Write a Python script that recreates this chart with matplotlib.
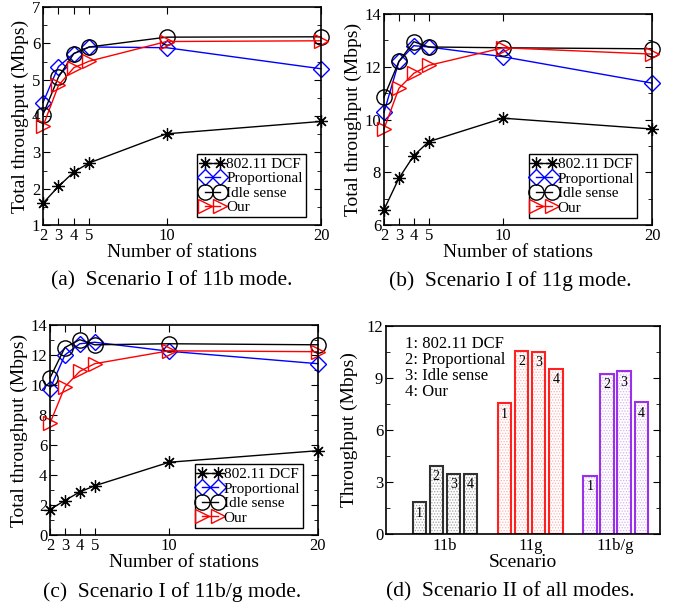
import numpy as np
import matplotlib
matplotlib.use("Agg")
import matplotlib.pyplot as plt

plt.rcParams['font.family'] = ['Liberation Serif', 'DejaVu Serif']

# ---- data ----
stations = [2, 3, 4, 5, 10, 20]

b_dcf = [1.60, 2.06, 2.46, 2.71, 3.51, 3.85]
b_prop = [4.37, 5.36, 5.72, 5.90, 5.88, 5.30]
b_idle = [4.04, 5.07, 5.72, 5.90, 6.17, 6.18]
b_our = [3.72, 4.84, 5.33, 5.51, 6.05, 6.07]

g_dcf = [6.58, 7.77, 8.63, 9.16, 10.05, 9.64]
g_prop = [10.27, 12.20, 12.80, 12.75, 12.38, 11.38]
g_idle = [10.85, 12.20, 12.95, 12.75, 12.72, 12.68]
g_our = [9.64, 11.18, 11.75, 12.05, 12.72, 12.48]

bg_dcf = [1.70, 2.30, 2.87, 3.28, 4.85, 5.62]
bg_prop = [9.74, 12.00, 12.75, 12.85, 12.25, 11.42]
bg_idle = [10.47, 12.50, 13.02, 12.68, 12.75, 12.68]
bg_our = [7.45, 9.88, 10.91, 11.42, 12.28, 12.22]

scenarios = ["11b", "11g", "11b/g"]
scheme_labels = ["1: 802.11 DCF", "2: Proportional", "3: Idle sense", "4: Our"]
bar_vals = [
    [1.82, 3.95, 3.48, 3.48],   # 11b
    [7.53, 10.57, 10.50, 9.52],  # 11g
    [3.37, 9.23, 9.39, 7.60],   # 11b/g
]

series_names = ["802.11 DCF", "Proportional", "Idle sense", "Our"]
styles = [
    dict(color="black", marker=(8, 2, 0), markersize=9, mew=0.9),
    dict(color="#0000ff", marker="D", markersize=8, mfc="none", mew=1.0),
    dict(color="black", marker="o", markersize=11, mfc="none", mew=1.0),
    dict(color="#ff0000", marker=">", markersize=10, mfc="none", mew=1.0),
]

W, H = 681, 608
fig = plt.figure(figsize=(W / 100, H / 100), dpi=100)


def px_axes(x0, y0, x1, y1):
    return fig.add_axes([x0 / W, 1 - y1 / H, (x1 - x0) / W, (y1 - y0) / H])


def line_panel(ax, data, ylim, ystep, yminor, leg_anchor):
    for vals, name, st in zip(data, series_names, styles):
        ax.plot(stations, vals, lw=1.0, label=name, clip_on=False, **st)
    ax.set_xlim(2, 20)
    ax.set_ylim(*ylim)
    ax.set_xticks(stations)
    ax.set_yticks(np.arange(ylim[0], ylim[1] + 0.01, ystep))
    ax.set_yticks(np.arange(ylim[0], ylim[1] + 0.01, yminor), minor=True)
    ax.tick_params(direction="in", which="both", top=True, right=True,
                   labelsize=12, pad=2)
    ax.tick_params(which="major", length=5)
    ax.tick_params(which="minor", length=3)
    for s in ax.spines.values():
        s.set_linewidth(1.2)
    ax.set_xlabel("Number of stations", fontsize=14, labelpad=0)
    ax.set_ylabel("Total throughput (Mbps)", fontsize=14, labelpad=2)
    leg = ax.legend(loc="lower right", bbox_to_anchor=leg_anchor, numpoints=2,
                    fontsize=11, frameon=True, fancybox=False, framealpha=1,
                    edgecolor="black", borderaxespad=0, borderpad=0.2,
                    handlelength=1.6, handletextpad=0.1, labelspacing=0.05)
    leg.get_frame().set_linewidth(1.0)


ax_a = px_axes(43, 7, 321, 225)
line_panel(ax_a, [b_dcf, b_prop, b_idle, b_our], (1, 7), 1, 0.5, (0.945, 0.035))

ax_b = px_axes(384, 14, 652, 225)
line_panel(ax_b, [g_dcf, g_prop, g_idle, g_our], (6, 14), 2, 1, (0.945, 0.035))

ax_c = px_axes(50, 325, 318, 535)
line_panel(ax_c, [bg_dcf, bg_prop, bg_idle, bg_our], (0, 14), 2, 1, (0.945, 0.035))

# ---- bar panel ----
ax_d = px_axes(386, 326, 660, 534)
group_pos = np.array([0, 5, 10])
offsets = np.array([-1.5, -0.5, 0.5, 1.5])
edge_cols = ["#303030", "#ff2020", "#9a30e8"]
dot_cols = ["#a0a0a0", "#ffb0b0", "#d8b0f0"]
plt.rcParams['hatch.linewidth'] = 0.6
for g, vals in enumerate(bar_vals):
    xs = group_pos[g] + offsets
    ax_d.bar(xs, vals, width=0.78, color="white", hatch="......",
             edgecolor=dot_cols[g], linewidth=0)
    ax_d.bar(xs, vals, width=0.78, fill=False, edgecolor=edge_cols[g],
             linewidth=1.5)
    for i, (x, v) in enumerate(zip(xs, vals)):
        ax_d.text(x, v - 0.25, str(i + 1), ha="center", va="top", fontsize=10)
ax_d.set_xlim(-3.45, 12.6)
ax_d.set_ylim(0, 12)
ax_d.set_xticks(group_pos)
ax_d.set_xticklabels(scenarios)
ax_d.set_yticks([0, 3, 6, 9, 12])
ax_d.set_yticks(np.arange(0, 12.01, 1.5), minor=True)
ax_d.tick_params(direction="in", which="both", right=True, labelsize=12, pad=2)
ax_d.tick_params(which="major", length=5)
ax_d.tick_params(which="minor", length=3)
ax_d.tick_params(axis="x", length=0, pad=3)
for s in ax_d.spines.values():
    s.set_linewidth(1.2)
ax_d.set_xlabel("Scenario", fontsize=14, labelpad=0)
ax_d.set_ylabel("Throughput (Mbps)", fontsize=14, labelpad=6)
ax_d.text(0.07, 0.95, "\n".join(scheme_labels), transform=ax_d.transAxes,
          ha="left", va="top", fontsize=12, linespacing=1.0)

# ---- captions ----
caps = [
    (172, 281, "(a)  Scenario I of 11b mode."),
    (510, 281, "(b)  Scenario I of 11g mode."),
    (172, 592, "(c)  Scenario I of 11b/g mode."),
    (510, 592, "(d)  Scenario II of all modes."),
]
for x, y, t in caps:
    fig.text(x / W, 1 - y / H, t, ha="center", va="center", fontsize=15.5)

fig.savefig("out.png", dpi=100)
